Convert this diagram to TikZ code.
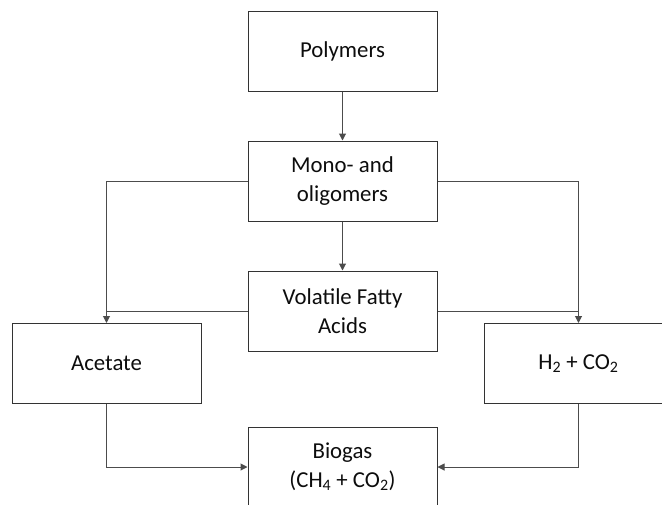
\documentclass[tikz,border=0pt]{standalone}
\usepackage{fontspec}
\setmainfont{Carlito}
\usetikzlibrary{positioning, arrows.meta}

\tikzset{
  box/.style={draw=black!80, line width=1pt, fill=white, minimum width=189pt,
    minimum height=80pt, inner sep=0pt, align=center, text=black!95,
    font=\fontsize{22.8}{28.5}\selectfont},
  flow/.style={draw=black!70, line width=1pt},
}

\begin{document}
\begin{tikzpicture}[x=1pt, y=-1pt, >={Triangle[length=7pt,width=7pt]}]
    \useasboundingbox (0,0) rectangle (662,504);
    \clip (0,0) rectangle (662,504);

    \node[box] (poly) at (342.5,51) {Polymers};
    \node[box] (mono) [below=49pt of poly] {Mono- and\\oligomers};
    \node[box] (vfa) [below=49pt of mono] {Volatile Fatty\\Acids};
    \node[box] (acetate) at (106.5,363.5) {Acetate};
    \node[box] (hyd) at (578.5,363.5) {H\textsubscript{2} + CO\textsubscript{2}};
    \node[box] (biogas) at (342.5,467) {Biogas\\(CH\textsubscript{4} + CO\textsubscript{2})};

    \draw[flow, ->] (poly) -- (mono);
    \draw[flow, ->] (mono) -- (vfa);

    % side branches
    \draw[flow, ->] (mono.west) -| (acetate.north);
    \draw[flow, ->] (mono.east) -| (hyd.north);
    \draw[flow] (vfa.west) -- (vfa.west -| acetate.north);
    \draw[flow] (vfa.east) -- (vfa.east -| hyd.north);

    \draw[flow, ->] (acetate.south) |- (biogas.west);
    \draw[flow, ->] (hyd.south) |- (biogas.east);
\end{tikzpicture}
\end{document}
